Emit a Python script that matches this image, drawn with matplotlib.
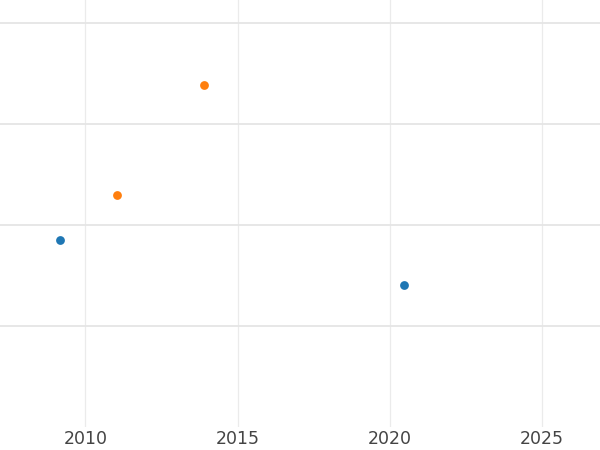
import matplotlib.pyplot as plt

plt.rcParams['font.family'] = ['DejaVu Sans']

# data
blue_years = [2009.18, 2020.46]
blue_values = [1.85, 1.40]
orange_years = [2011.05, 2013.91]
orange_values = [2.30, 3.39]

x_ticks = [2010, 2015, 2020, 2025]
y_ticks = [1, 2, 3, 4]

fig = plt.figure(figsize=(6, 4.5), dpi=100)
ax = fig.add_axes([0, 0.052, 1, 0.948])

ax.scatter(blue_years, blue_values, s=40, color='#1f77b4', zorder=3, linewidths=0)
ax.scatter(orange_years, orange_values, s=40, color='#ff7f0e', zorder=3, linewidths=0)

ax.set_xlim(2007.2, 2026.9)
ax.set_ylim(0, 4.23)
ax.set_xticks(x_ticks)
ax.set_yticks(y_ticks)
ax.set_yticklabels([])

ax.grid(True, axis='x', color='#ebebeb', linewidth=0.9)
ax.grid(True, axis='y', color='#e5e5e5', linewidth=1.3)
ax.set_axisbelow(True)

for s in ax.spines.values():
    s.set_visible(False)
ax.tick_params(axis='both', length=0)
ax.tick_params(axis='x', labelsize=12.5, labelcolor='#444444', pad=2.5)

fig.savefig('out.png', dpi=100)
